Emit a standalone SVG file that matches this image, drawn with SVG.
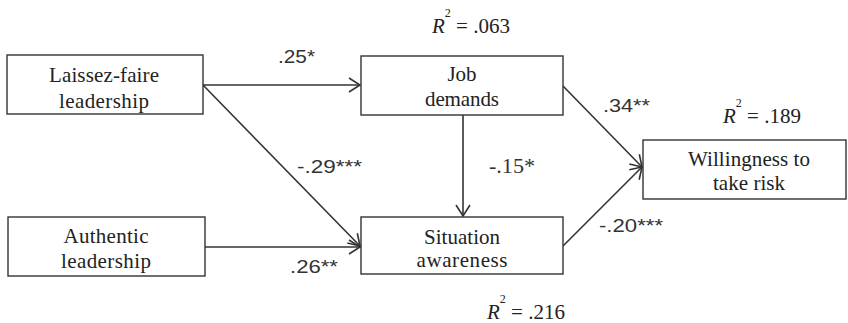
<svg xmlns="http://www.w3.org/2000/svg" width="848" height="323" viewBox="0 0 848 323">
<defs>
<style>
.box{fill:#fff;stroke:#333;stroke-width:1.4}
.lbl{font-family:'Liberation Serif',serif;font-size:21px;fill:#222;text-anchor:middle}
.coef{font-family:'Liberation Sans',sans-serif;font-size:18px;fill:#333}
.coefs{font-family:'Liberation Serif',serif;font-size:21px;fill:#333}
.r2{font-family:'Liberation Serif',serif;font-size:21px;fill:#222}
.con{stroke:#333;stroke-width:1.6;fill:none;marker-end:url(#arr)}
</style>
<marker id="arr" markerUnits="userSpaceOnUse" markerWidth="14" markerHeight="16" viewBox="0 0 14 16" refX="12" refY="8" orient="auto">
<path d="M1,1 L12,8 L1,15" fill="none" stroke="#333" stroke-width="1.6"/>
</marker>
</defs>
<rect width="848" height="323" fill="#fff"/>
<g id="connectors">
<line class="con" x1="203" y1="85" x2="360" y2="85"/>
<line class="con" x1="203" y1="85" x2="360" y2="246"/>
<line class="con" x1="205" y1="247" x2="360" y2="247"/>
<line class="con" x1="463" y1="115" x2="463" y2="216"/>
<line class="con" x1="563" y1="86" x2="642" y2="167"/>
<line class="con" x1="563" y1="246" x2="642" y2="167"/>
</g>
<g id="laissez">
<rect class="box" x="7" y="55" width="196" height="59"/>
<text class="lbl" x="104" y="82" textLength="110" lengthAdjust="spacing">Laissez-faire</text>
<text class="lbl" x="104" y="108" textLength="90" lengthAdjust="spacing">leadership</text>
</g>
<g id="authentic">
<rect class="box" x="8" y="217" width="197" height="59"/>
<text class="lbl" x="106" y="243" textLength="85" lengthAdjust="spacing">Authentic</text>
<text class="lbl" x="106" y="268" textLength="90" lengthAdjust="spacing">leadership</text>
</g>
<g id="job">
<rect class="box" x="361" y="56" width="202" height="59"/>
<text class="lbl" x="462" y="81">Job</text>
<text class="lbl" x="462" y="106" textLength="74" lengthAdjust="spacing">demands</text>
</g>
<g id="situation">
<rect class="box" x="361" y="217" width="202" height="57"/>
<text class="lbl" x="462" y="244" textLength="76" lengthAdjust="spacing">Situation</text>
<text class="lbl" x="462" y="267" textLength="91" lengthAdjust="spacing">awareness</text>
</g>
<g id="willingness">
<rect class="box" x="643" y="140" width="203" height="59"/>
<text class="lbl" x="749" y="166" textLength="122" lengthAdjust="spacing">Willingness to</text>
<text class="lbl" x="749" y="190" textLength="72" lengthAdjust="spacing">take risk</text>
</g>
<g id="coefficients">
<text class="coef" x="278" y="63" textLength="37" lengthAdjust="spacingAndGlyphs">.25*</text>
<text class="coef" x="297" y="173" textLength="65" lengthAdjust="spacingAndGlyphs">-.29***</text>
<text class="coef" x="290" y="273" textLength="48" lengthAdjust="spacingAndGlyphs">.26**</text>
<text class="coefs" x="489" y="173" textLength="46" lengthAdjust="spacingAndGlyphs">-.15*</text>
<text class="coef" x="603" y="112" textLength="47" lengthAdjust="spacingAndGlyphs">.34**</text>
<text class="coef" x="599" y="232" textLength="64" lengthAdjust="spacingAndGlyphs">-.20***</text>
</g>
<g id="r2">
<text class="r2" x="432" y="33"><tspan font-style="italic">R</tspan><tspan dy="-16" font-size="12">2</tspan><tspan dy="16"> = .063</tspan></text>
<text class="r2" x="723" y="123"><tspan font-style="italic">R</tspan><tspan dy="-16" font-size="12">2</tspan><tspan dy="16"> = .189</tspan></text>
<text class="r2" x="487" y="319"><tspan font-style="italic">R</tspan><tspan dy="-16" font-size="12">2</tspan><tspan dy="16"> = .216</tspan></text>
</g>
</svg>
